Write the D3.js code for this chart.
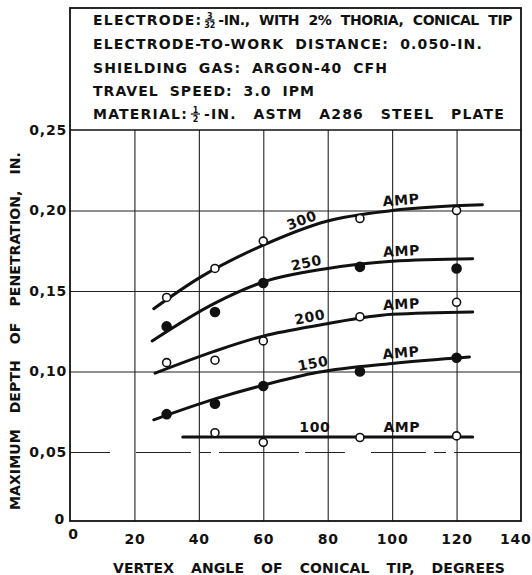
<!DOCTYPE html>
<html lang="en">
<head>
<meta charset="utf-8">
<title>Penetration vs vertex angle</title>
<style>
  body { margin: 0; background: #fff; }
  svg text { font-family: "DejaVu Sans", sans-serif; font-weight: bold; fill: #111; }
</style>
</head>
<body>
<svg width="532" height="575"></svg>
<script src="https://cdn.jsdelivr.net/npm/d3@7"></script>
<script>
// axis ticks
const xTicks = [0, 20, 40, 60, 80, 100, 120, 140];
const yTicks = [0.05, 0.10, 0.15, 0.20, 0.25];
const yTickLabels = ["0,05", "0,10", "0,15", "0,20", "0,25"];

// welding current of each curve, and how its test points are marked
const currents = [300, 250, 200, 150, 100];
const filledMarks = [false, true, false, true, false];

// test points: [vertex angle, depth of penetration]
const pts300 = [[30, 0.146], [45, 0.164], [60, 0.181], [90, 0.195], [120, 0.200]];
const pts250 = [[30, 0.128], [45, 0.137], [60, 0.155], [90, 0.165], [120, 0.164]];
const pts200 = [[30, 0.1055], [45, 0.107], [60, 0.119], [90, 0.134], [120, 0.143]];
const pts150 = [[30, 0.0735], [45, 0.080], [60, 0.091], [90, 0.100], [120, 0.1085]];
const pts100 = [[45, 0.062], [60, 0.056], [90, 0.059], [120, 0.060]];

// faired curves through the points
const fit300 = [[26, 0.139], [40, 0.158], [60, 0.1785], [80, 0.1935], [100, 0.200], [128, 0.2035]];
const fit250 = [[25.5, 0.119], [45, 0.1425], [60, 0.1556], [80, 0.164], [100, 0.1685], [125, 0.170]];
const fit200 = [[26.4, 0.099], [45, 0.1127], [60, 0.122], [78, 0.129], [100, 0.1355], [125, 0.137]];
const fit150 = [[26, 0.070], [45, 0.083], [60, 0.0915], [77, 0.0995], [100, 0.105], [124, 0.109]];
const fit100 = [[35, 0.0593], [125, 0.0593]];

const points = [pts300, pts250, pts200, pts150, pts100];
const fits = [fit300, fit250, fit200, fit150, fit100];

// where the curve labels sit (vertex angle)
const numberAt = [73, 74, 75, 76, 76];
const ampAt = 103;

const headerLines = [
    ["ELECTRODE:", ["3", "32"], "-IN., WITH 2% THORIA, CONICAL TIP"],
    ["ELECTRODE-TO-WORK DISTANCE: 0.050-IN."],
    ["SHIELDING GAS: ARGON-40 CFH"],
    ["TRAVEL SPEED: 3.0 IPM"],
    ["MATERIAL:", ["1", "2"], "-IN. ASTM A286 STEEL PLATE"]
];
const headerEnds = [512, 483, 388, 315, 505];

const xTitle = "VERTEX ANGLE OF CONICAL TIP, DEGREES";
const yTitle = "MAXIMUM DEPTH OF PENETRATION, IN.";

const svg = d3.select("svg");
const mLeft = 70, mRight = 521, mTop = 8, mBottom = 521;
const fs = 14, ls = 1.2;

const x = d3.scaleLinear().domain([0, 140]).range([mLeft, mRight]);
const y = d3.scaleLinear().domain([0, 0.05, 0.25]).range([mBottom, 452, 130]);

// grid
svg.append("g")
    .attr("transform", `translate(0,${mBottom})`)
    .call(d3.axisBottom(x).tickValues(xTicks.slice(1, -1)).tickSize(-(mBottom - y(0.25))).tickFormat(""))
    .call(g => g.select(".domain").remove())
    .selectAll("line").attr("stroke", "#222").attr("stroke-width", 1.1);

svg.append("g")
    .attr("transform", `translate(${mLeft},0)`)
    .call(d3.axisLeft(y).tickValues(yTicks.slice(0, -1)).tickSize(-(mRight - mLeft)).tickFormat(""))
    .call(g => g.select(".domain").remove())
    .selectAll("line")
    .attr("stroke", "#222").attr("stroke-width", 1.1)
    .attr("stroke-dasharray", d => d === 0.05 ? "40,26,55,8,12,8,80,6" : null);

// frame with the header box
svg.append("rect")
    .attr("x", mLeft).attr("y", mTop)
    .attr("width", mRight - mLeft).attr("height", mBottom - mTop)
    .attr("fill", "none").attr("stroke", "#111").attr("stroke-width", 1.8);
svg.append("line")
    .attr("x1", mLeft).attr("x2", mRight)
    .attr("y1", y(0.25)).attr("y2", y(0.25))
    .attr("stroke", "#111").attr("stroke-width", 1.6);

// tick labels
const xAxis = svg.append("g")
    .attr("transform", `translate(0,${mBottom})`)
    .call(d3.axisBottom(x).tickValues(xTicks).tickSize(0).tickPadding(23).tickFormat(d => d));
xAxis.select(".domain").remove();
xAxis.selectAll("text").attr("font-size", fs).attr("dy", 0).attr("letter-spacing", 0.8);
xAxis.selectAll(".tick").filter(d => d === 0).select("text").attr("x", 3).attr("y", 18);
xAxis.selectAll(".tick").filter(d => d === 140).select("text").attr("text-anchor", "end").attr("x", 10);

const yAxis = svg.append("g")
    .attr("transform", `translate(${mLeft},0)`)
    .call(d3.axisLeft(y).tickValues([0].concat(yTicks)).tickSize(0).tickPadding(3)
        .tickFormat(d => d === 0 ? "0" : yTickLabels[yTicks.indexOf(d)]));
yAxis.select(".domain").remove();
yAxis.selectAll("text").attr("font-size", fs).attr("letter-spacing", 0.8);
yAxis.selectAll(".tick").filter(d => d === 0).select("text").attr("x", -5).attr("dy", "0.2em");

// stretch a text so it ends at a given x: wider word gaps, or tighter letters if it is too long
function spread(t, endX, minGap = 5) {
    const s = t.text();
    const gaps = (s.match(/ /g) || []).length;
    if (!gaps) return;
    const len = t.node().getComputedTextLength();
    const x0 = +t.attr("x");
    let extra = (endX - x0 - len) / gaps;
    if (extra < minGap) {
        const cur = +t.attr("letter-spacing") || 0;
        const fix = (endX - x0 - len - minGap * gaps) / s.length;
        t.attr("letter-spacing", cur + fix);
        extra = minGap;
    }
    t.attr("word-spacing", extra);
}

// header text
const hx = 93;
const baselines = [25, 49, 73, 96, 119];
headerLines.forEach((parts, i) => {
    let cx = hx;
    let last = null;
    parts.forEach(p => {
        if (Array.isArray(p)) {
            const b = baselines[i];
            const w = 9;
            svg.append("text").attr("x", cx + 2 + w / 2).attr("y", b - 6.5)
                .attr("font-size", 8).attr("text-anchor", "middle").text(p[0]);
            svg.append("line").attr("x1", cx + 2).attr("x2", cx + 2 + w)
                .attr("y1", b - 5).attr("y2", b - 5).attr("stroke", "#111").attr("stroke-width", 1.2);
            svg.append("text").attr("x", cx + 2 + w / 2).attr("y", b + 3)
                .attr("font-size", 8).attr("text-anchor", "middle").text(p[1]);
            cx += w + 6;
        } else {
            last = svg.append("text").attr("x", cx).attr("y", baselines[i])
                .attr("font-size", fs).attr("letter-spacing", ls).text(p);
            cx += last.node().getComputedTextLength() + 1;
        }
    });
    spread(last, headerEnds[i]);
});

// axis titles
const xt = svg.append("text").attr("x", 113).attr("y", 573)
    .attr("font-size", fs).attr("letter-spacing", 0.6).text(xTitle);
spread(xt, 505, 12);

const ytG = svg.append("g").attr("transform", "translate(20,0) rotate(-90)");
const yt = ytG.append("text").attr("x", -510).attr("y", 0)
    .attr("font-size", fs).attr("letter-spacing", 0.6).text(yTitle);
spread(yt, -152, 11);

// curves
const line = d3.line().x(d => x(d[0])).y(d => y(d[1])).curve(d3.curveMonotoneX);

svg.append("g").selectAll("path")
    .data(fits)
    .join("path")
    .attr("d", line)
    .attr("fill", "none")
    .attr("stroke", "#111")
    .attr("stroke-width", 3)
    .attr("stroke-linecap", "round");

function yAt(fit, v) {
    for (let i = 1; i < fit.length; i++) {
        if (v <= fit[i][0]) {
            const t = (v - fit[i - 1][0]) / (fit[i][0] - fit[i - 1][0]);
            return fit[i - 1][1] + t * (fit[i][1] - fit[i - 1][1]);
        }
    }
    return fit[fit.length - 1][1];
}

function addLabel(fit, v, txt) {
    const px = x(v), py = y(yAt(fit, v));
    const a = Math.atan2(y(yAt(fit, v + 4)) - y(yAt(fit, v - 4)), x(v + 4) - x(v - 4)) * 180 / Math.PI;
    svg.append("text")
        .attr("transform", `translate(${px},${py}) rotate(${a})`)
        .attr("y", -5)
        .attr("text-anchor", "middle")
        .attr("font-size", fs)
        .attr("letter-spacing", 0.6)
        .text(txt);
}

fits.forEach((fit, i) => {
    addLabel(fit, numberAt[i], currents[i]);
    addLabel(fit, ampAt, "AMP");
});

// test points
points.forEach((pts, i) => {
    svg.append("g").selectAll("circle")
        .data(pts)
        .join("circle")
        .attr("cx", d => x(d[0]))
        .attr("cy", d => y(d[1]))
        .attr("r", filledMarks[i] ? 4.5 : 4)
        .attr("fill", filledMarks[i] ? "#111" : "#fff")
        .attr("stroke", "#111")
        .attr("stroke-width", 1.6);
});
</script>
</body>
</html>
